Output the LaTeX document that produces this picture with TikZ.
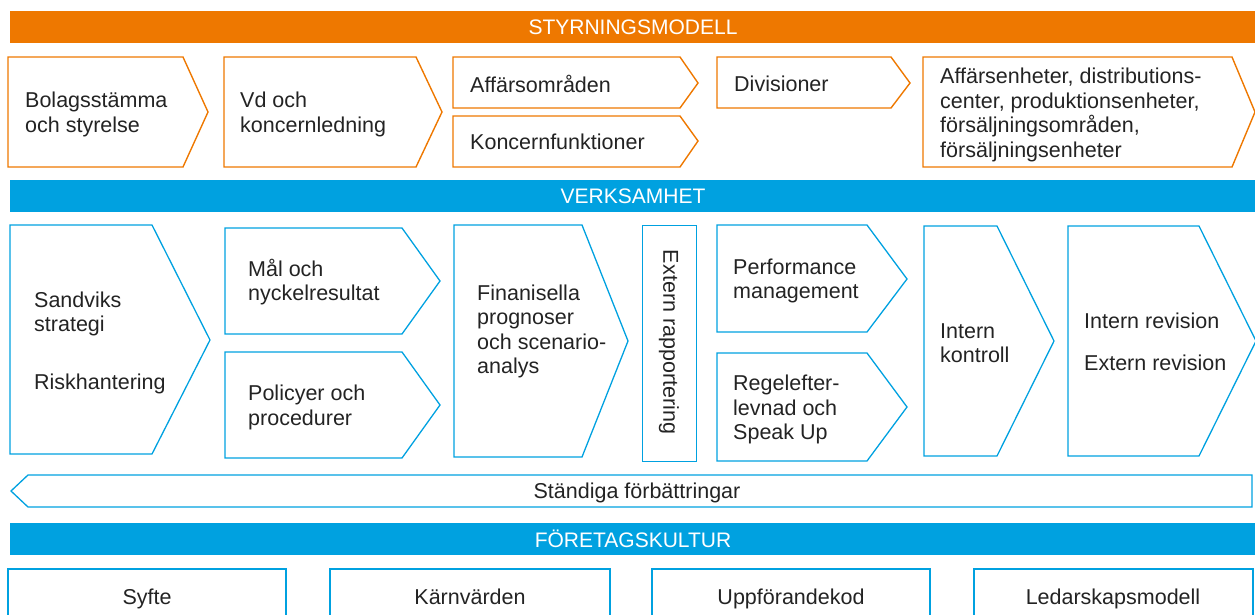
\documentclass[tikz,border=0pt]{standalone}
\usepackage{fontspec}
\setmainfont{Liberation Sans}
\definecolor{sandorange}{RGB}{238,120,0}
\definecolor{sandblue}{RGB}{0,161,224}
\definecolor{textgray}{RGB}{35,35,35}

\begin{document}
\begin{tikzpicture}[x=1pt,y=-1pt,
    orangebox/.style={draw=sandorange, line width=1.4pt},
    bluebox/.style={draw=sandblue, line width=1.3pt},
    boxtext/.style={text=textgray, align=left, anchor=west, inner sep=0pt, font=\fontsize{21.5}{24.5}\selectfont},
    bartext/.style={text=white, inner sep=0pt, font=\fontsize{21}{24}\selectfont}]
        \useasboundingbox (0,0) rectangle (1255,615);

        % styrningsmodell
        \fill[sandorange] (10,11) rectangle (1255,43);
        \node[bartext] (styr) at (633,27) {STYRNINGSMODELL};

        \draw[orangebox] (8,57) -- (183,57) -- (208,112) -- (183,167) -- (8,167) -- cycle;
        \draw[orangebox] (224,57) -- (416,57) -- (442,112) -- (416,167) -- (224,167) -- cycle;
        \draw[orangebox] (453,57) -- (680,57) -- (698,83) -- (680,108) -- (453,108) -- cycle;
        \draw[orangebox] (453,116) -- (680,116) -- (698,141) -- (680,167) -- (453,167) -- cycle;
        \draw[orangebox] (717,57) -- (891,57) -- (910,83) -- (891,108) -- (717,108) -- cycle;
        \draw[orangebox] (923,57) -- (1232,57) -- (1255,112) -- (1232,167) -- (923,167) -- cycle;

        \node[boxtext] (bolag) at (25,114.5) {Bolagsstämma\\och styrelse};
        \node[boxtext] (vd) at (240,114.5) {Vd och\\koncernledning};
        \node[boxtext] (affomr) at (470,84) {Affärsområden};
        \node[boxtext] (koncfunk) at (470,142) {Koncernfunktioner};
        \node[boxtext] (div) at (734,84) {Divisioner};
        \node[boxtext] (enheter) at (940,115) {Affärsenheter, distributions-\\center, produktionsenheter,\\försäljningsområden,\\försäljningsenheter};

        % verksamhet
        \fill[sandblue] (10,180) rectangle (1255,212);
        \node[bartext] (verk) at (633,196) {VERKSAMHET};

        \draw[bluebox] (10,225) -- (152,225) -- (210,340) -- (152,454) -- (10,454) -- cycle;
        \draw[bluebox] (225,228) -- (402,228) -- (440,281) -- (402,334) -- (225,334) -- cycle;
        \draw[bluebox] (225,352) -- (402,352) -- (440,405) -- (402,458) -- (225,458) -- cycle;
        \draw[bluebox] (454,225) -- (582,225) -- (628,341) -- (582,457) -- (454,457) -- cycle;
        \draw[bluebox] (642.4,225.4) rectangle (696.4,461.4);
        \draw[bluebox] (717,225) -- (867,225) -- (907,279) -- (867,332) -- (717,332) -- cycle;
        \draw[bluebox] (717,353) -- (867,353) -- (907,407) -- (867,461) -- (717,461) -- cycle;
        \draw[bluebox] (924,226) -- (997,226) -- (1054,341) -- (997,456) -- (924,456) -- cycle;
        \draw[bluebox] (1068,226) -- (1199,226) -- (1256,341) -- (1199,456) -- (1068,456) -- cycle;

        \node[boxtext] (strat) at (34,342.5) {Sandviks\\strategi\\[33pt]Riskhantering};
        \node[boxtext] (mal) at (248,282) {Mål och\\nyckelresultat};
        \node[boxtext] (pol) at (248,407.5) {Policyer och\\procedurer};
        \node[boxtext] (prog) at (477,331.5) {Finanisella\\prognoser\\och scenario-\\analys};
        \node[boxtext, anchor=center, rotate=-90] (extrap) at (669,342) {Extern rapportering};
        \node[boxtext] (perf) at (733,281) {Performance\\management};
        \node[boxtext] (regel) at (733,409.5) {Regelefter-\\levnad och\\Speak Up};
        \node[boxtext] (intk) at (940,343) {Intern\\kontroll};
        \node[boxtext] (rev) at (1084,342) {Intern revision\\[17pt]Extern revision};

        % ständiga förbättringar
        \draw[bluebox] (28,475) -- (1252,475) -- (1252,507) -- (28,507) -- (11,491) -- cycle;
        \node[boxtext, anchor=base] (stand) at (637,498) {Ständiga förbättringar};

        % företagskultur
        \fill[sandblue] (10,523) rectangle (1255,555);
        \node[bartext] (kultur) at (633,539) {FÖRETAGSKULTUR};

        \draw[bluebox] (8,625) -- (8,569) -- (286,569) -- (286,625);
        \draw[bluebox] (330,625) -- (330,569) -- (610,569) -- (610,625);
        \draw[bluebox] (652,625) -- (652,569) -- (930,569) -- (930,625);
        \draw[bluebox] (974,625) -- (974,569) -- (1253,569) -- (1253,625);

        \node[boxtext, anchor=base] (syfte) at (147,604) {Syfte};
        \node[boxtext, anchor=base] (karn) at (470,604) {Kärnvärden};
        \node[boxtext, anchor=base] (kod) at (791,604) {Uppförandekod};
        \node[boxtext, anchor=base] (ledar) at (1113,604) {Ledarskapsmodell};
    \end{tikzpicture}
\end{document}
